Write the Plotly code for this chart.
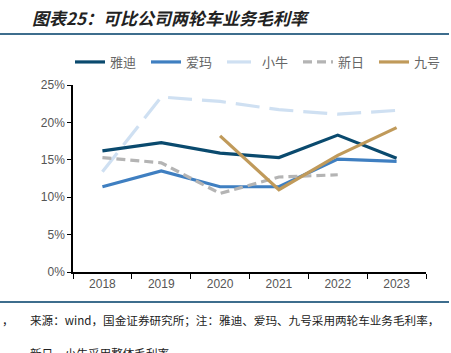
import plotly.graph_objects as go

years = ["2018", "2019", "2020", "2021", "2022", "2023"]
yadi = [16.2, 17.3, 15.9, 15.3, 18.3, 15.2]
aima = [11.4, 13.5, 11.4, 11.4, 15.1, 14.8]
niu = [13.4, 23.4, 22.8, 21.7, 21.1, 21.6]
sunra = [15.3, 14.6, 10.5, 12.7, 13.0, None]
ninebot = [None, None, 18.2, 11.0, 15.6, 19.3]

names = ["雅迪", "爱玛", "小牛", "新日", "九号"]
series = [yadi, aima, niu, sunra, ninebot]
colors = ["#0a4a6e", "#3f7fc1", "#cfe0f2", "#b4b4b4", "#c09a5a"]
dashes = ["solid", "solid", "24px,10px", "9px,5px", "solid"]

fig = go.Figure()
for n, s, c, d in zip(names, series, colors, dashes):
    fig.add_trace(go.Scatter(
        x=years, y=[v / 100 if v is not None else None for v in s],
        name=n, mode="lines",
        line=dict(color=c, width=3.2, dash=d),
        connectgaps=False,
    ))

W, H = 451, 353
L, R, T, B = 73, 25, 85, 81
pw, ph = W - L - R, H - T - B

def px(x):
    return (x - L) / pw

def py(y):
    return (H - B - y) / ph

fig.update_layout(
    width=W, height=H,
    margin=dict(l=L, r=R, t=T, b=B),
    paper_bgcolor="white", plot_bgcolor="white",
    font=dict(family="Noto Sans CJK SC, Arial", color="#555555", size=12),
    showlegend=True,
    legend=dict(
        orientation="h", x=px(70), xanchor="left", y=py(62), yanchor="middle",
        font=dict(size=13, color="#666666"),
        entrywidth=31, entrywidthmode="pixels",
        tracegroupgap=0, bgcolor="rgba(0,0,0,0)",
    ),
    xaxis=dict(
        type="category", showgrid=False, showline=True, linecolor="#000000",
        linewidth=1.5, ticks="outside", tickson="boundaries", ticklen=5,
        tickcolor="#000000", tickfont=dict(size=12, color="#555555", family="Arial"),
        range=[-0.5, 5.5],
    ),
    yaxis=dict(
        range=[0, 0.25], dtick=0.05, tickformat=".0%", showgrid=False,
        showline=True, linecolor="#000000", linewidth=1.5, ticks="outside",
        ticklen=4, tickcolor="#000000", zeroline=False,
        tickfont=dict(size=12, color="#555555", family="Arial"),
    ),
)

fig.add_annotation(
    text="<b><i>图表25：可比公司两轮车业务毛利率</i></b>",
    xref="paper", yref="paper", x=px(30), y=py(18), xanchor="left", yanchor="middle",
    showarrow=False, font=dict(size=17, color="#222222", family="Noto Sans CJK SC"),
)
fig.add_annotation(
    text="来源：wind，国金证券研究所；注：雅迪、爱玛、九号采用两轮车业务毛利率，",
    xref="paper", yref="paper", x=px(28), y=py(320), xanchor="left", yanchor="middle",
    showarrow=False, font=dict(size=11.6, color="#222222", family="Noto Sans CJK SC"),
)
fig.add_annotation(
    text="，",
    xref="paper", yref="paper", x=px(0), y=py(320), xanchor="left", yanchor="middle",
    showarrow=False, font=dict(size=11.6, color="#222222", family="Noto Sans CJK SC"),
)
fig.add_annotation(
    text="新日、小牛采用整体毛利率。",
    xref="paper", yref="paper", x=px(28), y=py(353), xanchor="left", yanchor="middle",
    showarrow=False, font=dict(size=11.6, color="#222222", family="Noto Sans CJK SC"),
)
for yy in (34, 302):
    fig.add_shape(type="line", xref="paper", yref="paper",
                  x0=px(0), x1=px(449), y0=py(yy), y1=py(yy),
                  line=dict(color="#3d6d8d", width=2))

fig.write_html("out.html")
